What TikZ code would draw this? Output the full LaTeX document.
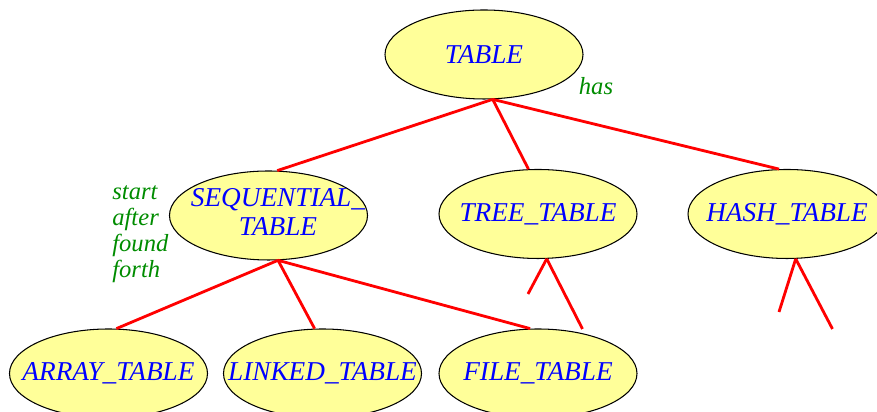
\documentclass[tikz,border=0pt]{standalone}
\usepackage{fontspec}
\setmainfont{Liberation Serif}
\usepackage{tikz}
\usetikzlibrary{shapes.geometric}
\definecolor{classfill}{RGB}{255,255,153}
\definecolor{featgreen}{RGB}{0,140,0}
\newcommand{\cname}[1]{\makebox[0pt]{#1}}

\begin{document}
\begin{tikzpicture}
\tikzstyle{class}=[draw, ellipse, fill=classfill, line width=0.6pt, inner sep=0pt, minimum width=3.96cm, minimum height=1.78cm, text=blue, font=\fontsize{15.5}{16.5}\selectfont\itshape]
\tikzstyle{feature}=[text=featgreen, font=\fontsize{14}{14.9}\selectfont\itshape, inner sep=0pt]
\tikzstyle{client}=[draw=red, line width=1.6pt]
\useasboundingbox (0,0) rectangle (17.54,8.24);

\node[class](table) at (9.68, 7.15) {\cname{TABLE}};
\node[feature](has) at (11.92, 6.52) {has};

\node[class](seq) at (5.37, 3.93) {\cname{\hspace{0.38cm}\begin{tabular}{@{}c@{}}SEQUENTIAL\_\\TABLE\end{tabular}}};
\node[class](tree) at (10.76, 3.96) {\cname{TREE\_TABLE}};
\node[class](hash) at (15.74, 3.96) {\cname{HASH\_TABLE}};
\node[feature, anchor=west, align=left](seqfeat) at (2.24, 3.56) {start\\after\\found\\forth};

\node[class](array) at (2.17, 0.77) {\cname{ARRAY\_TABLE}};
\node[class](linked) at (6.45, 0.77) {\cname{LINKED\_TABLE}};
\node[class](file) at (10.76, 0.77) {\cname{FILE\_TABLE}};

\path[client] (table.-79) edge (seq.79) edge (tree.102) edge (hash.100);
\path[client] (seq.-78) edge (array.80) edge (linked.100) edge (file.100);

% subtrees left out
\coordinate (tree-l) at (10.56, 2.36);
\coordinate (tree-r) at (11.65, 1.66);
\coordinate (hash-l) at (15.58, 2.00);
\coordinate (hash-r) at (16.65, 1.66);
\path[client] (tree.-79) edge (tree-l) edge (tree-r);
\path[client] (hash.-79) edge (hash-l) edge (hash-r);

\end{tikzpicture}
\end{document}
